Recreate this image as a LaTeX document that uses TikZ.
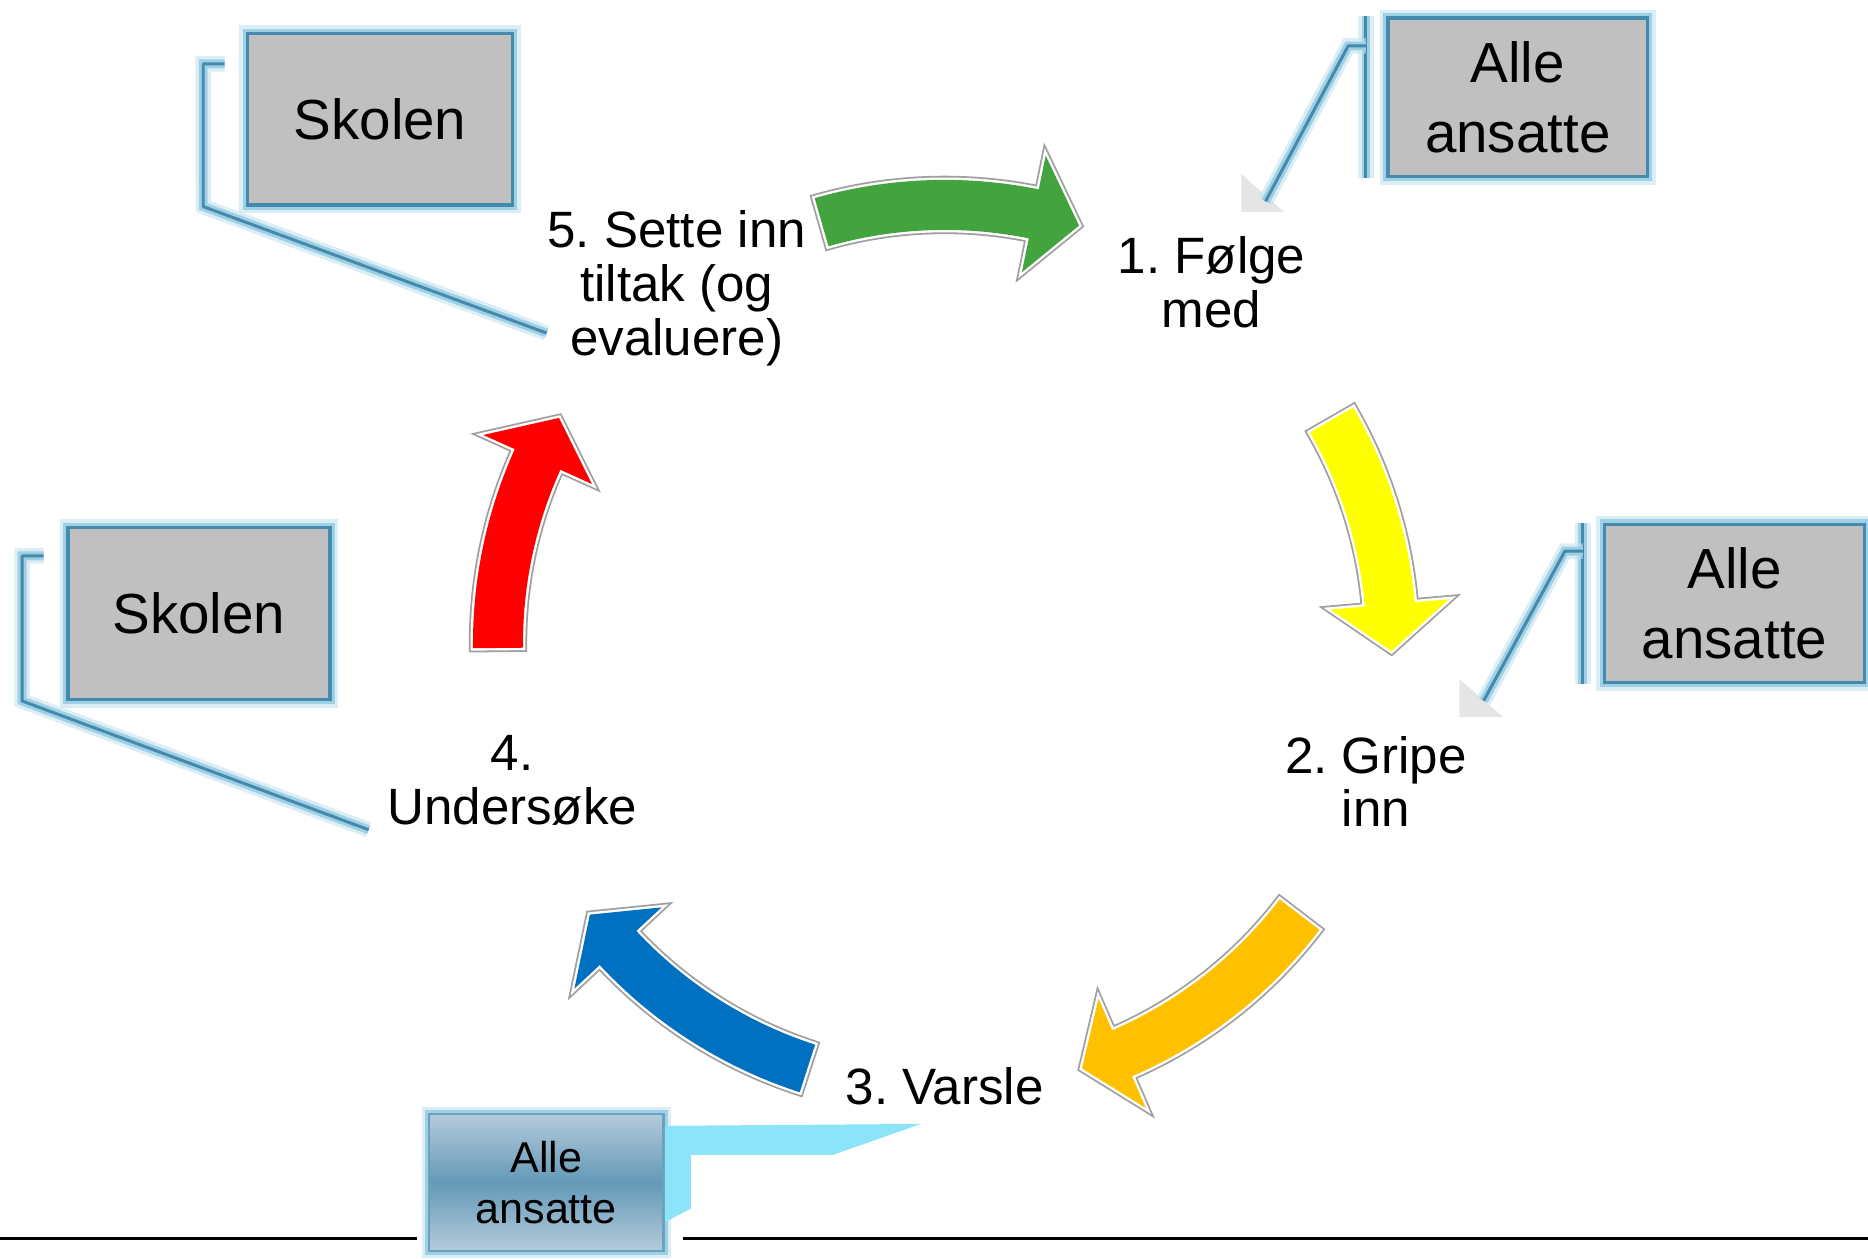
\documentclass[tikz,border=0pt]{standalone}
\usepackage{fontspec}
\setmainfont{Liberation Sans}

\definecolor{boxgrey}{HTML}{C0C0C0}
\definecolor{lineblue}{HTML}{4489AE}
\definecolor{glowblue}{HTML}{9FD0E4}
\definecolor{arrowgreen}{HTML}{43A33E}
\definecolor{arrowyellow}{HTML}{FFFF00}
\definecolor{arroworange}{HTML}{FFC000}
\definecolor{arrowblue}{HTML}{0070C0}
\definecolor{arrowred}{HTML}{FF0000}
\definecolor{wedgecyan}{HTML}{8CE4F9}
\definecolor{lowtop}{HTML}{B4CBDB}
\definecolor{lowmid}{HTML}{6499B7}

% curved block arrow: colour, tail angle, head angle, tip angle
\newcommand{\cyclearrow}[4]{%
  \path[blockarrow, fill=#1]
    (#2:354) arc[start angle=#2, end angle=#3, radius=354]
    -- (#3:325) -- (#4:375) -- (#3:425) -- (#3:396)
    arc[start angle=#3, end angle=#2, radius=396] -- cycle;
}

\begin{document}
\frenchspacing
\begin{tikzpicture}
  [
    x                 = 0.1mm,
    y                 = -0.1mm,
    stagetext/.style  = {font=\fontsize{12.2}{12.8}\selectfont, align=center, inner sep=1.5mm},
    callbox/.style    = {
      draw=lineblue, line width=0.28mm, fill=boxgrey,
      font=\fontsize{13.5}{16.8}\selectfont, align=center, inner sep=0pt,
      minimum width=21.8mm, minimum height=13.3mm,
      preaction={draw=glowblue!60, line width=1.4mm, opacity=0.6},
      preaction={draw=glowblue, line width=0.8mm}
    },
    lowbox/.style     = {
      draw=lineblue!80, line width=0.2mm,
      top color=lowtop, bottom color=lowtop, middle color=lowmid,
      font=\fontsize{10.3}{12.2}\selectfont, align=center, inner sep=0pt,
      minimum width=19.7mm, minimum height=11.5mm,
      preaction={draw=glowblue!60, line width=1.2mm, opacity=0.6},
      preaction={draw=glowblue, line width=0.7mm}
    },
    leader/.style     = {
      draw=lineblue, line width=0.25mm, line join=round,
      preaction={draw=glowblue!60, line width=1.3mm, opacity=0.6},
      preaction={draw=glowblue, line width=0.75mm}
    },
    blockarrow/.style = {
      line join=miter,
      preaction={draw=gray!75, line width=0.7mm},
      preaction={draw=white, line width=0.4mm}
    }
  ]
  \useasboundingbox (0,0) rectangle (1568,1056);

  % the five steps
  \node[stagetext] (step1) at (1017,237) {1. Følge\\med};
  \node[stagetext] (step2) at (1155,656) {2. Gripe\\inn};
  \node[stagetext] (step3) at (793,912) {3. Varsle};
  \node[stagetext] (step4) at (430,655) {4.\\Undersøke};
  \node[stagetext, inner xsep=0pt] (step5) at (568,242) {5. Sette inn\\tiltak (og\\evaluere)};

  % arrows round the cycle
  \begin{scope}[shift={(793,547)}, yscale=-1]
    \cyclearrow{arrowgreen}{106}{78.5}{72.5}
  \end{scope}
  \begin{scope}[shift={(793,540)}, yscale=-1]
    \cyclearrow{arrowyellow}{30}{5}{-1}
    \cyclearrow{arroworange}{-37.4}{-66.6}{-72.1}
    \cyclearrow{arrowblue}{-107.9}{-137}{-142.6}
    \cyclearrow{arrowred}{180.6}{155.7}{149.7}
  \end{scope}

  \fill[gray!20] (1042,146) -- (1042,178) -- (1078,178) -- cycle;
  \fill[gray!20] (1225,570) -- (1225,602) -- (1262,602) -- cycle;

  % callouts
  \node[callbox, minimum width=22.2mm, minimum height=14.4mm] (skolen1) at (319,100) {Skolen};
  \node[callbox] (alle1) at (1274,81.5) {Alle\\ansatte};
  \node[callbox] (alle2) at (1456,506.5) {Alle\\ansatte};
  \node[callbox, minimum width=22mm, minimum height=14.4mm] (skolen2) at (167,515) {Skolen};

  \draw[leader] ([xshift=-1.8mm, yshift=-2.7mm]skolen1.north west) -- ++(-18,0)
    -- ([xshift=-3.6mm]skolen1.south west) -- (step5.199);
  \draw[leader] ([xshift=-1.9mm, yshift=-2.5mm]skolen2.north west) -- ++(-18,0)
    -- ([xshift=-3.7mm]skolen2.south west) -- (step4.199);
  \draw[leader] ([xshift=-1.7mm]alle1.north west) -- ([xshift=-1.7mm]alle1.south west);
  \draw[leader, shorten >=1.6mm] ([xshift=-1.7mm, yshift=-2.5mm]alle1.north west) -- ++(-15,0) -- (step1.55);
  \draw[leader] ([xshift=-1.7mm]alle2.north west) -- ([xshift=-1.7mm]alle2.south west);
  \draw[leader, shorten >=1.6mm] ([xshift=-1.7mm, yshift=-2.4mm]alle2.north west) -- ++(-15,0) -- (step2.33);

  \draw[line width=0.25mm] (0,1040) -- (350,1040);
  \draw[line width=0.25mm] (573,1040) -- (1568,1040);

  \node[lowbox] (alle3) at (458.5,992.5) {Alle\\ansatte};
  \fill[wedgecyan] ([yshift=-1.1mm]alle3.north east) -- ([xshift=-2mm]step3.south)
    -- ++(-74,26) -- ++(-119,0) -- ++(0,45) -- ([yshift=-9.2mm]alle3.north east) -- cycle;
\end{tikzpicture}
\end{document}
